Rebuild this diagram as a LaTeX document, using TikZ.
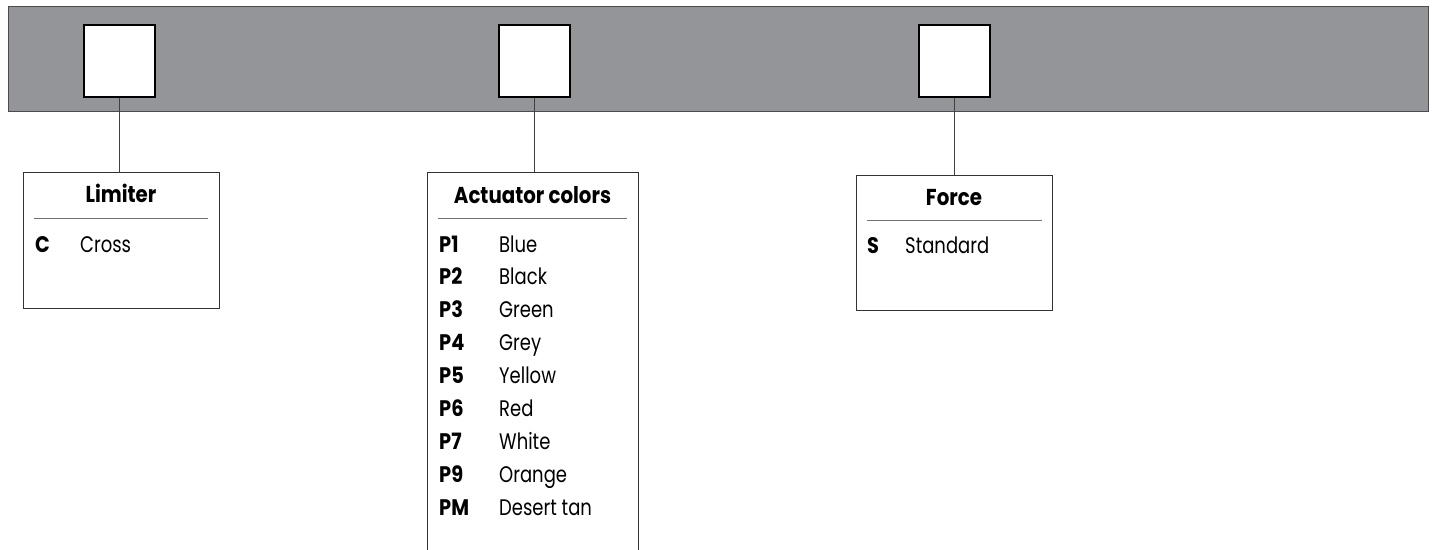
\documentclass[tikz,border=0pt]{standalone}
\usepackage{fontspec}
\setmainfont[FakeStretch=0.8, BoldFeatures={FakeStretch=0.86}]{Poppins}
\usepackage{tikz}
\usetikzlibrary{positioning}
\definecolor{barGrey}{RGB}{147,149,152}
\tikzset{
	x=1pt, y=-1pt,
	bar/.style={draw=black!70, fill=barGrey, line width=1.3pt},
	slot/.style={draw=black, fill=white, line width=2.6pt, minimum width=71pt, minimum height=72pt, inner sep=0pt},
	lead/.style={draw=black!75, line width=0.9pt},
	panel/.style={inner sep=0pt, anchor=north west},
	panelline/.style={draw=black!80, line width=0.9pt},
	sep/.style={draw=black!55, line width=1pt},
	head/.style={font=\fontsize{23}{26}\selectfont\bfseries, anchor=base, inner sep=0pt},
	code/.style={font=\fontsize{22.5}{26}\selectfont\bfseries, anchor=base west, inner sep=0pt},
	item/.style={font=\fontsize{22.5}{26}\selectfont, anchor=base west, inner sep=0pt},
}
\begin{document}
\begin{tikzpicture}
	\useasboundingbox (0,0) rectangle (1434,549);
	% grey strip with the three slots
	\node[bar, panel, minimum width=1420pt, minimum height=105pt] (strip) at (8,6) {};
	\node[slot] (slotA) at (119.5,61) {};
	\node[slot] (slotB) at (534.5,61) {};
	\node[slot] (slotC) at (954.5,61) {};

	% limiter
	\node[panel, panelline, minimum width=196pt, minimum height=136pt] (limiter) at (23,172) {};
	\node[head] (limiterHead) at (121,202) {Limiter};
	\draw[sep] (34,218) -- (208,218);
	\node[code] (codeC) at (35,252) {C};
	\node[item] (nameC) at (80,252) {Cross};
	\draw[lead] (slotA.south) -- (slotA.south |- limiter.north);

	% actuator colors (runs off the bottom)
	\node[panel, minimum width=211pt, minimum height=390pt] (colors) at (427,172) {};
	\draw[panelline] (colors.south west) -- (colors.north west) -- (colors.north east) -- (colors.south east);
	\node[head] (colorsHead) at (532.5,203) {Actuator colors};
	\draw[sep] (438,218) -- (627,218);
	\foreach \c/\n [count=\i from 0] in {P1/Blue, P2/Black, P3/Green, P4/Grey, P5/Yellow, P6/Red, P7/White, P9/Orange, PM/Desert tan}
	{
		\node[code] (code\c) at (439,252+32.9*\i) {\c};
		\node[item] (name\c) at (499,252+32.9*\i) {\n};
	}
	\draw[lead] (slotB.south) -- (slotB.south |- colors.north);

	% force
	\node[panel, panelline, minimum width=196pt, minimum height=135pt] (force) at (856,175) {};
	\node[head] (forceHead) at (954,205) {Force};
	\draw[sep] (867,220) -- (1042,220);
	\node[code] (codeS) at (867,253) {S};
	\node[item] (nameS) at (905,253) {Standard};
	\draw[lead] (slotC.south) -- (slotC.south |- force.north);
\end{tikzpicture}
\end{document}
